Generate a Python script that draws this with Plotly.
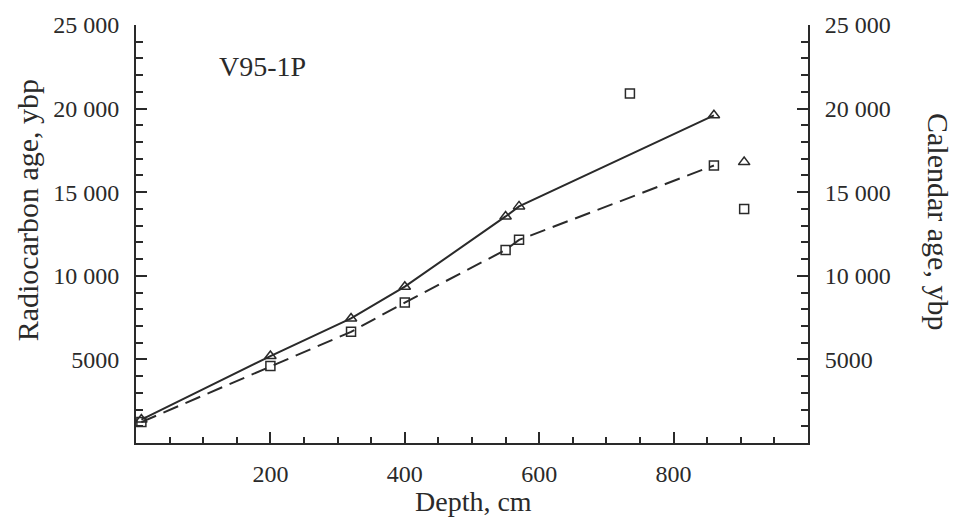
import plotly.graph_objects as go

# Data
depth_cal = [8, 200, 320, 400, 550, 570, 860]
cal_age = [1400, 5200, 7450, 9350, 13550, 14150, 19600]
depth_rc = [8, 200, 320, 400, 550, 570, 860]
rc_age = [1250, 4600, 6650, 8400, 11550, 12150, 16600]
cal_out_depth = [905]
cal_out_age = [16800]
rc_out_depth = [735, 905]
rc_out_age = [20900, 14000]

x_tickvals = [200, 400, 600, 800]
x_ticktext = ["200", "400", "600", "800"]
y_tickvals = [5000, 10000, 15000, 20000, 25000]
y_ticktext = ["5000", "10 000", "15 000", "20 000", "25 000"]

INK = "#2a2a2a"
FONT = "Liberation Serif"

fig = go.Figure()
fig.add_trace(go.Scatter(x=depth_rc, y=rc_age, mode="lines+markers",
                         line=dict(color=INK, width=2, dash="16px,8px"),
                         marker=dict(symbol="square-open", size=9, color=INK, line=dict(width=1.5)),
                         yaxis="y"))
fig.add_trace(go.Scatter(x=rc_out_depth, y=rc_out_age, mode="markers",
                         marker=dict(symbol="square-open", size=9, color=INK, line=dict(width=1.5)),
                         yaxis="y"))
fig.add_trace(go.Scatter(x=depth_cal, y=cal_age, mode="lines+markers",
                         line=dict(color=INK, width=2),
                         marker=dict(symbol="triangle-up-open", size=10, color=INK, line=dict(width=1.5)),
                         yaxis="y2"))
fig.add_trace(go.Scatter(x=cal_out_depth, y=cal_out_age, mode="markers",
                         marker=dict(symbol="triangle-up-open", size=10, color=INK, line=dict(width=1.5)),
                         yaxis="y2"))

yax = dict(range=[0, 25000], tickvals=y_tickvals, ticktext=y_ticktext,
           ticks="inside", ticklen=11, tickwidth=2, tickcolor=INK,
           showline=True, linewidth=2, linecolor=INK,
           showgrid=False, zeroline=False,
           tickfont=dict(family=FONT, size=24, color=INK),
           ticklabelstandoff=10,
           minor=dict(tick0=0, dtick=1000, ticks="inside", ticklen=7, tickwidth=2, tickcolor=INK))

fig.update_layout(
    width=959, height=520,
    margin=dict(l=136, r=151, t=19, b=77),
    paper_bgcolor="white", plot_bgcolor="white",
    showlegend=False,
    xaxis=dict(range=[0, 1000], tickvals=x_tickvals, ticktext=x_ticktext,
               ticks="inside", ticklen=11, tickwidth=2, tickcolor=INK,
               showline=True, linewidth=2, linecolor=INK,
               showgrid=False, zeroline=False,
               tickfont=dict(family=FONT, size=24, color=INK),
               ticklabelstandoff=8,
               minor=dict(tick0=0, dtick=50, ticks="inside", ticklen=6, tickwidth=2, tickcolor=INK)),
    yaxis=dict(**yax, side="left"),
    yaxis2=dict(**yax, side="right", overlaying="y", anchor="x"),
    annotations=[
        dict(text="Radiocarbon age, ybp", xref="paper", yref="paper", x=-0.162, y=0.557,
             textangle=-90, showarrow=False, font=dict(family=FONT, size=30, color=INK),
             xanchor="center", yanchor="middle"),
        dict(text="Calendar age, ybp", xref="paper", yref="paper", x=1.195, y=0.531,
             textangle=90, showarrow=False, font=dict(family=FONT, size=30, color=INK),
             xanchor="center", yanchor="middle"),
        dict(text="Depth, cm", xref="paper", yref="paper", x=0.5015, y=-0.139,
             showarrow=False, font=dict(family=FONT, size=28, color=INK),
             xanchor="center", yanchor="middle"),
        dict(text="V95-1P", xref="paper", yref="paper", x=0.1875, y=0.901,
             showarrow=False, font=dict(family=FONT, size=28, color=INK),
             xanchor="center", yanchor="middle"),
    ],
)

fig.write_html("out.html")
